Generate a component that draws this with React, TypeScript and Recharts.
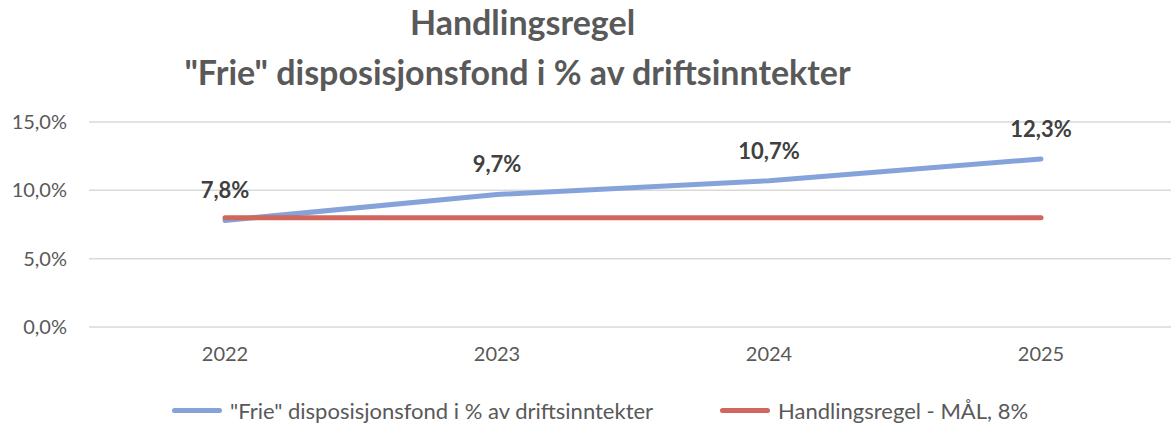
import React from "react";
import { LineChart, Line, XAxis, YAxis, CartesianGrid, LabelList } from "recharts";

const years = ["2022", "2023", "2024", "2025"];
const frieFond = [7.8, 9.7, 10.7, 12.3];
const maal = [8, 8, 8, 8];
const yTicks = [0, 5, 10, 15];

const data = years.map((y, i) => ({ year: y, frie: frieFond[i], maal: maal[i] }));

const FONT = "Lato, 'Open Sans', sans-serif";
const BLUE = "#85A3DA";
const RED = "#D0665C";

const pct = (v: number) => v.toFixed(1).replace(".", ",") + "%";

function LegendBox() {
  const item = (color: string, label: string, left: number) => (
    <div style={{ position: "absolute", left, top: 0, display: "flex", alignItems: "center", height: 26 }}>
      <span style={{ width: 50, height: 5, borderRadius: 3, background: color, marginRight: 8 }} />
      <span style={{ fontSize: 22, color: "#595959", fontFamily: FONT, whiteSpace: "nowrap" }}>{label}</span>
    </div>
  );
  return (
    <div style={{ position: "absolute", left: 0, top: 397, width: 1171, height: 26 }}>
      {item(BLUE, '"Frie" disposisjonsfond i % av driftsinntekter', 172)}
      {item(RED, "Handlingsregel - MÅL, 8%", 720)}
    </div>
  );
}

export default function App() {
  return (
    <div style={{ position: "absolute", left: 0, top: 0, width: 1171, height: 423, overflow: "hidden", background: "#fff" }}>
      <div style={{ position: "absolute", left: 0, top: -3, width: 1045, textAlign: "center", fontFamily: FONT, fontWeight: 700, fontSize: 34, color: "#595959", lineHeight: "50px" }}>
        <div>Handlingsregel</div>
        <div style={{ marginLeft: -10 }}>"Frie" disposisjonsfond i % av driftsinntekter</div>
      </div>
      <LineChart width={1177} height={423} data={data} margin={{ top: 122, right: 0, bottom: 0, left: 0 }}>
        <CartesianGrid vertical={false} stroke="#d9d9d9" strokeWidth={1.5} />
        <XAxis dataKey="year" axisLine={false} tickLine={false} height={96} padding={{ left: 136, right: 136 }}
          tick={{ fontSize: 20, fill: "#595959", fontFamily: FONT, dy: 12 }} />
        <YAxis domain={[0, 15]} ticks={yTicks} width={89} axisLine={false} tickLine={false}
          tickFormatter={pct} tick={{ fontSize: 20, fill: "#595959", fontFamily: FONT, dx: -14 }} />
        <Line dataKey="frie" stroke={BLUE} strokeWidth={5} strokeLinecap="round" dot={false} isAnimationActive={false}>
          <LabelList dataKey="frie" position="top" offset={22} formatter={(v: number) => pct(v)}
            style={{ fontSize: 22, fontWeight: 700, fill: "#404040", fontFamily: FONT }} />
        </Line>
        <Line dataKey="maal" stroke={RED} strokeWidth={5} strokeLinecap="round" dot={false} isAnimationActive={false} />
      </LineChart>
      <LegendBox />
    </div>
  );
}
